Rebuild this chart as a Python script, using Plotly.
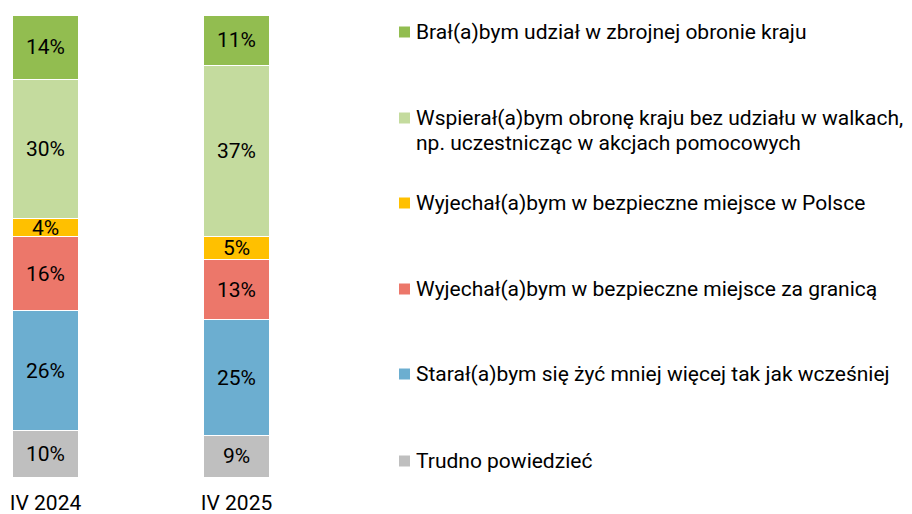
import plotly.graph_objects as go

categories = ["IV 2024", "IV 2025"]
series_names = [
    "Trudno powiedzieć",
    "Starał(a)bym się żyć mniej więcej tak jak wcześniej",
    "Wyjechał(a)bym w bezpieczne miejsce za granicą",
    "Wyjechał(a)bym w bezpieczne miejsce w Polsce",
    "Wspierał(a)bym obronę kraju bez udziału w walkach,<br>np. uczestnicząc w akcjach pomocowych",
    "Brał(a)bym udział w zbrojnej obronie kraju",
]
values_2024 = [10, 26, 16, 4, 30, 14]
values_2025 = [9, 25, 13, 5, 37, 11]
colors = ["#BFBFBF", "#6CAED0", "#EC776A", "#FFC000", "#C4DB9E", "#92BD50"]

OFF = 8  # page body margin
W, H = 912 - OFF, 514 - OFF
ML, PW = 0, 382
MT, PH = 15 - OFF, 462
FONT = "Roboto"
FS = 21

fig = go.Figure()
for i, name in enumerate(series_names):
    vals = [values_2024[i], values_2025[i]]
    fig.add_trace(go.Bar(
        x=[0, 1], y=vals, name=name,
        marker=dict(color=colors[i], line=dict(color="white", width=1)),
        text=[f"{v}%" for v in vals], textposition="inside",
        insidetextanchor="middle",
        textfont=dict(family=FONT, size=FS, color="black"),
        width=0.35, showlegend=False, hoverinfo="skip",
    ))

scale = 191.0
x0 = -(45.5 - OFF) / scale
fig.update_layout(
    barmode="stack",
    width=W, height=H,
    margin=dict(l=ML, r=W - ML - PW, t=MT, b=H - MT - PH, autoexpand=False),
    plot_bgcolor="white", paper_bgcolor="white",
    font=dict(family=FONT, size=FS, color="black"),
    uniformtext=dict(minsize=FS, mode="show"),
    xaxis=dict(range=[x0, x0 + PW / scale], tickvals=[0, 1], ticktext=categories,
               showgrid=False, zeroline=False, showline=False,
               ticks="outside", ticklen=7, tickcolor="rgba(0,0,0,0)",
               tickfont=dict(family=FONT, size=FS, color="black"), automargin=False),
    yaxis=dict(range=[0, 100], visible=False, showgrid=False, zeroline=False),
)

def px_x(p):
    return (p - OFF - ML) / PW

def px_y(p):
    return (MT + PH - (p - OFF)) / PH

legend_y = [461, 374, 289, 203, 118, 32]
LINE = 25
for i, name in enumerate(series_names):
    yc = legend_y[i]
    fig.add_shape(type="rect", xref="paper", yref="paper",
                  x0=px_x(399), x1=px_x(410), y0=px_y(yc + 5.5), y1=px_y(yc - 5.5),
                  fillcolor=colors[i], line=dict(width=0))
    for j, line in enumerate(name.split("<br>")):
        fig.add_annotation(xref="paper", yref="paper", x=px_x(414), y=px_y(yc + j * LINE),
                           xanchor="left", yanchor="middle", align="left", showarrow=False,
                           text=line, font=dict(family=FONT, size=FS, color="black"))

fig.write_html("out.html")
